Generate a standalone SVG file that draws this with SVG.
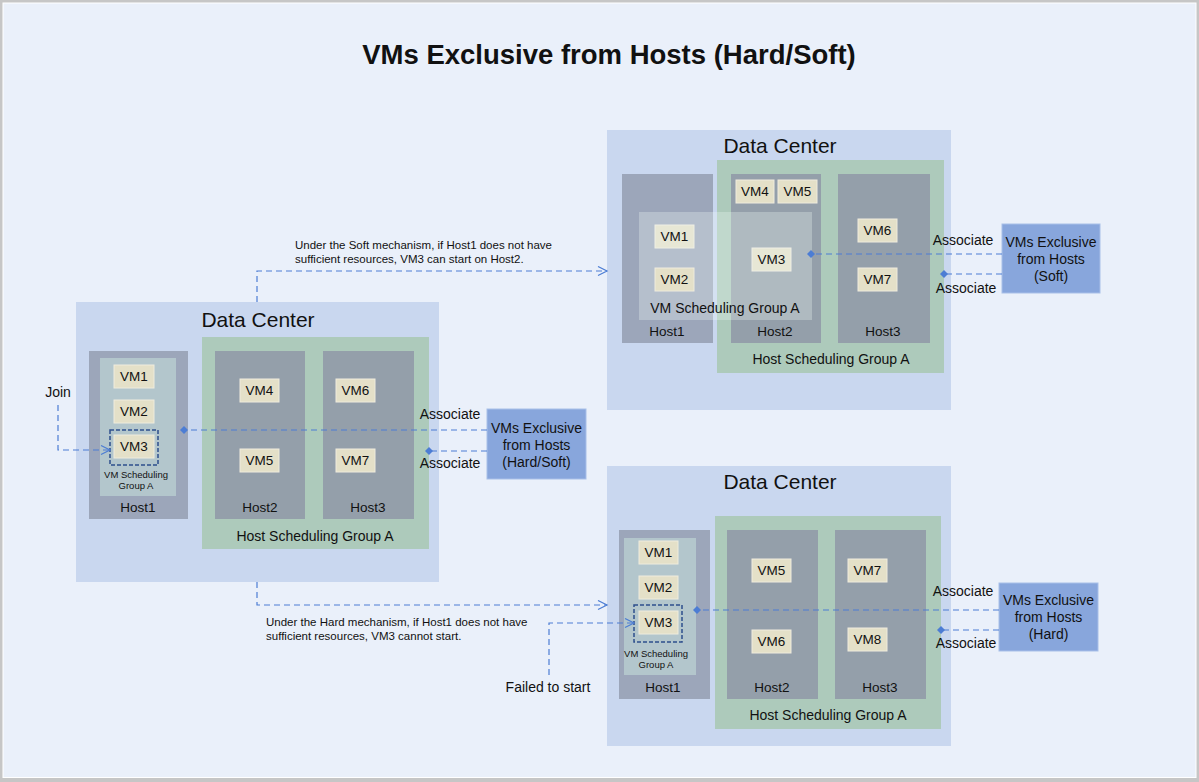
<svg xmlns="http://www.w3.org/2000/svg" width="1199" height="782" viewBox="0 0 1199 782">
<defs>
<style>
text{font-family:"Liberation Sans",Arial,sans-serif;fill:#111;text-anchor:middle}
.dc{fill:#C9D7EF}
.hg{fill:#ADCABB}
.h1{fill:#9CA6BA}
.h{fill:#949FAA}
.vg{fill:#B3C6CC}
.vm{fill:#E4E0C8;stroke:#EFECDD;stroke-width:1}
.ov{fill:#EEF8F4;fill-opacity:0.3}
.ex{fill:#88A6DC;stroke:#A8BFE8;stroke-width:1}
.sel{fill:none;stroke:#2E4F8C;stroke-width:1.5;stroke-dasharray:4 2}
.t21{font-size:21px}
.t14{font-size:14px}
.t13{font-size:13.5px}
.t9{font-size:9.5px}
.note{font-size:11.5px;text-anchor:start}
.cn{fill:none;stroke:#4C7DD4;stroke-width:1.2;stroke-dasharray:6 4}
</style>
<marker id="dia" markerUnits="userSpaceOnUse" markerWidth="8" markerHeight="8" refX="4" refY="4" orient="auto"><path d="M0,4 L4,0 L8,4 L4,8 Z" fill="#4C7DD4"/></marker>
<marker id="arr" markerUnits="userSpaceOnUse" markerWidth="12" markerHeight="12" refX="10" refY="5" orient="auto"><path d="M1,0.5 L10,5 L1,9.5" fill="none" stroke="#4C7DD4" stroke-width="1.2"/></marker>
</defs>
<rect x="0" y="0" width="1199" height="782" fill="#C6C6C6"/>
<rect x="3" y="3" width="1193" height="774.5" fill="#EAF0FA" stroke="#FFFFFF" stroke-width="1"/>
<text x="609" y="64" style="font-size:27.5px;font-weight:bold">VMs Exclusive from Hosts (Hard/Soft)</text>

<g id="dc-left">
<rect class="dc" x="76" y="302" width="363" height="280"/>
<text class="t21" x="258" y="327">Data Center</text>
<rect class="hg" x="202" y="337" width="227" height="212"/>
<rect class="h1" x="89" y="351" width="99" height="168"/>
<rect class="vg" x="100" y="358" width="76" height="138"/>
<rect class="vm" x="114" y="365" width="40" height="23"/><text class="t13" x="134" y="381">VM1</text>
<rect class="vm" x="114" y="400" width="40" height="23"/><text class="t13" x="134" y="416">VM2</text>
<rect class="vm" x="114" y="435" width="40" height="23"/><text class="t13" x="134" y="451">VM3</text>
<rect class="sel" x="110" y="430" width="48" height="35"/>
<text class="t9" x="136" y="478">VM Scheduling</text>
<text class="t9" x="136" y="489">Group A</text>
<text class="t13" x="138" y="512">Host1</text>
<rect class="h" x="215" y="351" width="90" height="168"/>
<rect class="vm" x="240" y="379" width="39" height="23"/><text class="t13" x="259.5" y="395">VM4</text>
<rect class="vm" x="240" y="449" width="39" height="23"/><text class="t13" x="259.5" y="465">VM5</text>
<text class="t13" x="260" y="512">Host2</text>
<rect class="h" x="323" y="351" width="91" height="168"/>
<rect class="vm" x="336" y="379" width="39" height="23"/><text class="t13" x="355.5" y="395">VM6</text>
<rect class="vm" x="336" y="449" width="39" height="23"/><text class="t13" x="355.5" y="465">VM7</text>
<text class="t13" x="368" y="512">Host3</text>
<text class="t14" x="315" y="541">Host Scheduling Group A</text>
</g>

<g id="excl-hardsoft">
<rect class="ex" x="487" y="409" width="99" height="70"/>
<text class="t14" x="536.5" y="433">VMs Exclusive</text>
<text class="t14" x="536.5" y="450">from Hosts</text>
<text class="t14" x="536.5" y="467">(Hard/Soft)</text>
</g>

<g id="dc-soft">
<rect class="dc" x="607" y="130" width="344" height="280"/>
<text class="t21" x="780" y="153">Data Center</text>
<rect class="hg" x="717" y="160" width="227" height="213"/>
<rect class="h1" x="622" y="174" width="91" height="169"/>
<rect class="h" x="731" y="174" width="90" height="169"/>
<rect class="h" x="838" y="174" width="92" height="169"/>
<rect class="vm" x="736" y="180" width="38" height="23"/><text class="t13" x="755" y="196">VM4</text>
<rect class="vm" x="778" y="180" width="39" height="23"/><text class="t13" x="797.5" y="196">VM5</text>
<rect class="vm" x="858" y="219" width="39" height="23"/><text class="t13" x="877.5" y="235">VM6</text>
<rect class="vm" x="858" y="268" width="39" height="23"/><text class="t13" x="877.5" y="284">VM7</text>
<rect class="vm" x="655" y="225" width="39" height="23"/>
<rect class="vm" x="752" y="248" width="39" height="23"/>
<rect class="ov" x="639" y="212" width="173" height="108"/>
<text class="t13" x="674.5" y="241">VM1</text>
<text class="t13" x="771.5" y="264">VM3</text>
<rect class="vm" x="655" y="268" width="39" height="23"/><text class="t13" x="674.5" y="284">VM2</text>
<text class="t14" x="725" y="313">VM Scheduling Group A</text>
<text class="t13" x="667" y="336">Host1</text>
<text class="t13" x="775" y="336">Host2</text>
<text class="t13" x="883" y="336">Host3</text>
<text class="t14" x="831" y="364">Host Scheduling Group A</text>
</g>

<g id="excl-soft">
<rect class="ex" x="1002" y="224" width="98" height="69"/>
<text class="t14" x="1051" y="247">VMs Exclusive</text>
<text class="t14" x="1051" y="264">from Hosts</text>
<text class="t14" x="1051" y="281">(Soft)</text>
</g>

<g id="dc-hard">
<rect class="dc" x="607" y="466" width="344" height="280"/>
<text class="t21" x="780" y="489">Data Center</text>
<rect class="hg" x="715" y="516" width="226" height="213"/>
<rect class="h1" x="619" y="530" width="91" height="169"/>
<rect class="vg" x="624" y="538" width="72" height="137"/>
<rect class="vm" x="639" y="541" width="39" height="23"/><text class="t13" x="658.5" y="557">VM1</text>
<rect class="vm" x="639" y="576" width="39" height="23"/><text class="t13" x="658.5" y="592">VM2</text>
<rect class="vm" x="639" y="611" width="39" height="23"/><text class="t13" x="658.5" y="627">VM3</text>
<rect class="sel" x="634" y="605" width="48" height="37"/>
<text class="t9" x="656" y="657">VM Scheduling</text>
<text class="t9" x="656" y="668">Group A</text>
<text class="t13" x="663" y="692">Host1</text>
<rect class="h" x="727" y="530" width="91" height="169"/>
<rect class="vm" x="752" y="559" width="39" height="23"/><text class="t13" x="771.5" y="575">VM5</text>
<rect class="vm" x="752" y="630" width="39" height="23"/><text class="t13" x="771.5" y="646">VM6</text>
<text class="t13" x="772" y="692">Host2</text>
<rect class="h" x="835" y="530" width="91" height="169"/>
<rect class="vm" x="848" y="559" width="39" height="23"/><text class="t13" x="867.5" y="575">VM7</text>
<rect class="vm" x="848" y="628" width="39" height="23"/><text class="t13" x="867.5" y="644">VM8</text>
<text class="t13" x="880" y="692">Host3</text>
<text class="t14" x="828" y="720">Host Scheduling Group A</text>
</g>

<g id="excl-hard">
<rect class="ex" x="999" y="583" width="99" height="68"/>
<text class="t14" x="1048.5" y="605">VMs Exclusive</text>
<text class="t14" x="1048.5" y="622">from Hosts</text>
<text class="t14" x="1048.5" y="639">(Hard)</text>
</g>

<g id="connectors">
<path class="cn" d="M487,430 L184,430" marker-end="url(#dia)"/>
<path class="cn" d="M487,451 L429,451" marker-end="url(#dia)"/>
<path class="cn" d="M1002,254 L811,254" marker-end="url(#dia)"/>
<path class="cn" d="M1002,274 L944,274" marker-end="url(#dia)"/>
<path class="cn" d="M999,610 L697,610" marker-end="url(#dia)"/>
<path class="cn" d="M999,630 L941,630" marker-end="url(#dia)"/>
<path class="cn" d="M58,405 V450 H110" marker-end="url(#arr)"/>
<path class="cn" d="M257,302 V271 H607" marker-end="url(#arr)"/>
<path class="cn" d="M257,582 V605 H607" marker-end="url(#arr)"/>
<path class="cn" d="M549,675 V623 H634" marker-end="url(#arr)"/>
</g>

<g id="labels">
<text class="t14" x="58" y="397">Join</text>
<text class="t14" x="450" y="419">Associate</text>
<text class="t14" x="450" y="468">Associate</text>
<text class="t14" x="963" y="245">Associate</text>
<text class="t14" x="966" y="293">Associate</text>
<text class="t14" x="963" y="596">Associate</text>
<text class="t14" x="966" y="648">Associate</text>
<text class="note" x="295" y="249">Under the Soft mechanism, if Host1 does not have</text>
<text class="note" x="295" y="263">sufficient resources, VM3 can start on Host2.</text>
<text class="note" x="266" y="626">Under the Hard mechanism, if Host1 does not have</text>
<text class="note" x="266" y="640">sufficient resources, VM3 cannot start.</text>
<text class="t14" x="548" y="692">Failed to start</text>
</g>
</svg>
